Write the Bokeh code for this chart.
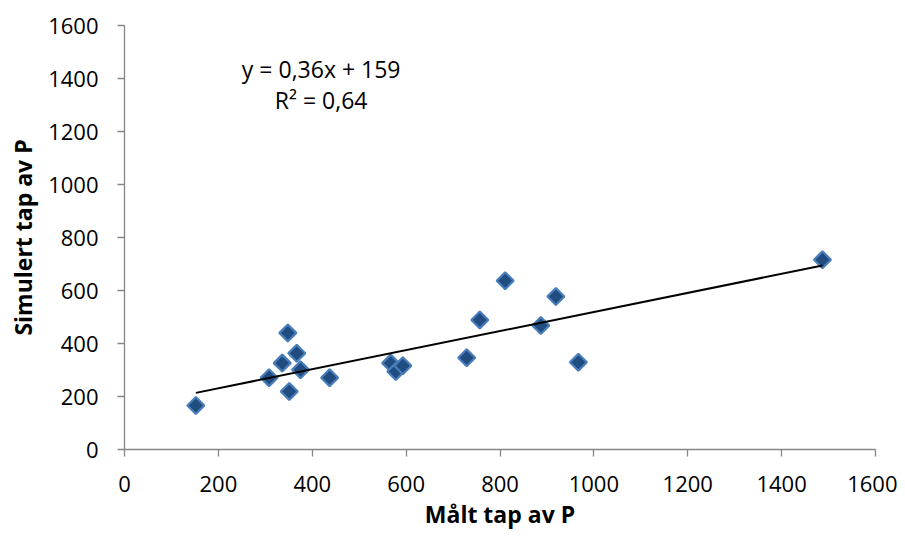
import numpy as np
from bokeh.plotting import figure
from bokeh.models import Range1d, Label, FixedTicker
from bokeh.embed import file_html
from bokeh.resources import INLINE

# Data
measured = [152, 348, 367, 336, 375, 308, 351, 437, 567, 578, 593, 729, 757, 811, 919, 887, 967, 1487]
simulated = [166, 440, 363, 326, 301, 271, 219, 271, 326, 294, 316, 346, 489, 637, 577, 468, 329, 716]

# Trend line (as shown in the chart)
slope = 0.36
intercept = 159
eq_text = "y = 0,36x + 159"
r2_text = "R\u00b2 = 0,64"
eq_pos = (419, 1434)
r2_pos = (419, 1317)

x_ticks = [0, 200, 400, 600, 800, 1000, 1200, 1400, 1600]
y_ticks = [0, 200, 400, 600, 800, 1000, 1200, 1400, 1600]
x_title = "Målt tap av P"
y_title = "Simulert tap av P"

FONT = "Open Sans"
AXIS_GRAY = "#868686"

p = figure(frame_width=751, frame_height=424, output_backend="svg", toolbar_location=None,
           x_range=Range1d(0, 1600), y_range=Range1d(0, 1600),
           min_border_left=124, min_border_right=22, min_border_top=25, min_border_bottom=80)

p.xgrid.visible = False
p.ygrid.visible = False
p.outline_line_color = None
p.background_fill_color = "white"
p.border_fill_color = "white"

for ax, ticks in ((p.xaxis[0], x_ticks), (p.yaxis[0], y_ticks)):
    ax.ticker = FixedTicker(ticks=ticks)
    ax.axis_line_color = AXIS_GRAY
    ax.axis_line_width = 1.3
    ax.major_tick_line_color = AXIS_GRAY
    ax.major_tick_line_width = 1.3
    ax.major_tick_out = 7
    ax.major_tick_in = 0
    ax.minor_tick_line_color = None
    ax.major_label_text_font = FONT
    ax.major_label_text_font_size = "22px"
    ax.major_label_text_color = "black"
    ax.axis_label_text_font = FONT
    ax.axis_label_text_font_size = "23px"
    ax.axis_label_text_font_style = "bold"
    ax.axis_label_text_color = "black"

p.xaxis.axis_label = x_title
p.yaxis.axis_label = y_title
p.xaxis.major_label_standoff = 19
p.yaxis.major_label_standoff = 19
p.xaxis.axis_label_standoff = 3
p.yaxis.axis_label_standoff = 6

p.scatter(measured, simulated, marker="square", angle=np.pi / 4, size=12,
          fill_color="#214C80", line_color="#4A7EBB", line_width=2.2)

x_line = [min(measured), max(measured)]
y_line = [slope * v + intercept for v in x_line]
p.line(x_line, y_line, line_color="black", line_width=2)

p.add_layout(Label(x=eq_pos[0], y=eq_pos[1], text=eq_text, text_align="center",
                   text_baseline="middle", text_font=FONT, text_font_size="23px",
                   text_color="black"))
p.add_layout(Label(x=r2_pos[0], y=r2_pos[1], text=r2_text, text_align="center",
                   text_baseline="middle", text_font=FONT, text_font_size="23px",
                   text_color="black"))

open("out.html", "w").write(file_html(p, INLINE))
